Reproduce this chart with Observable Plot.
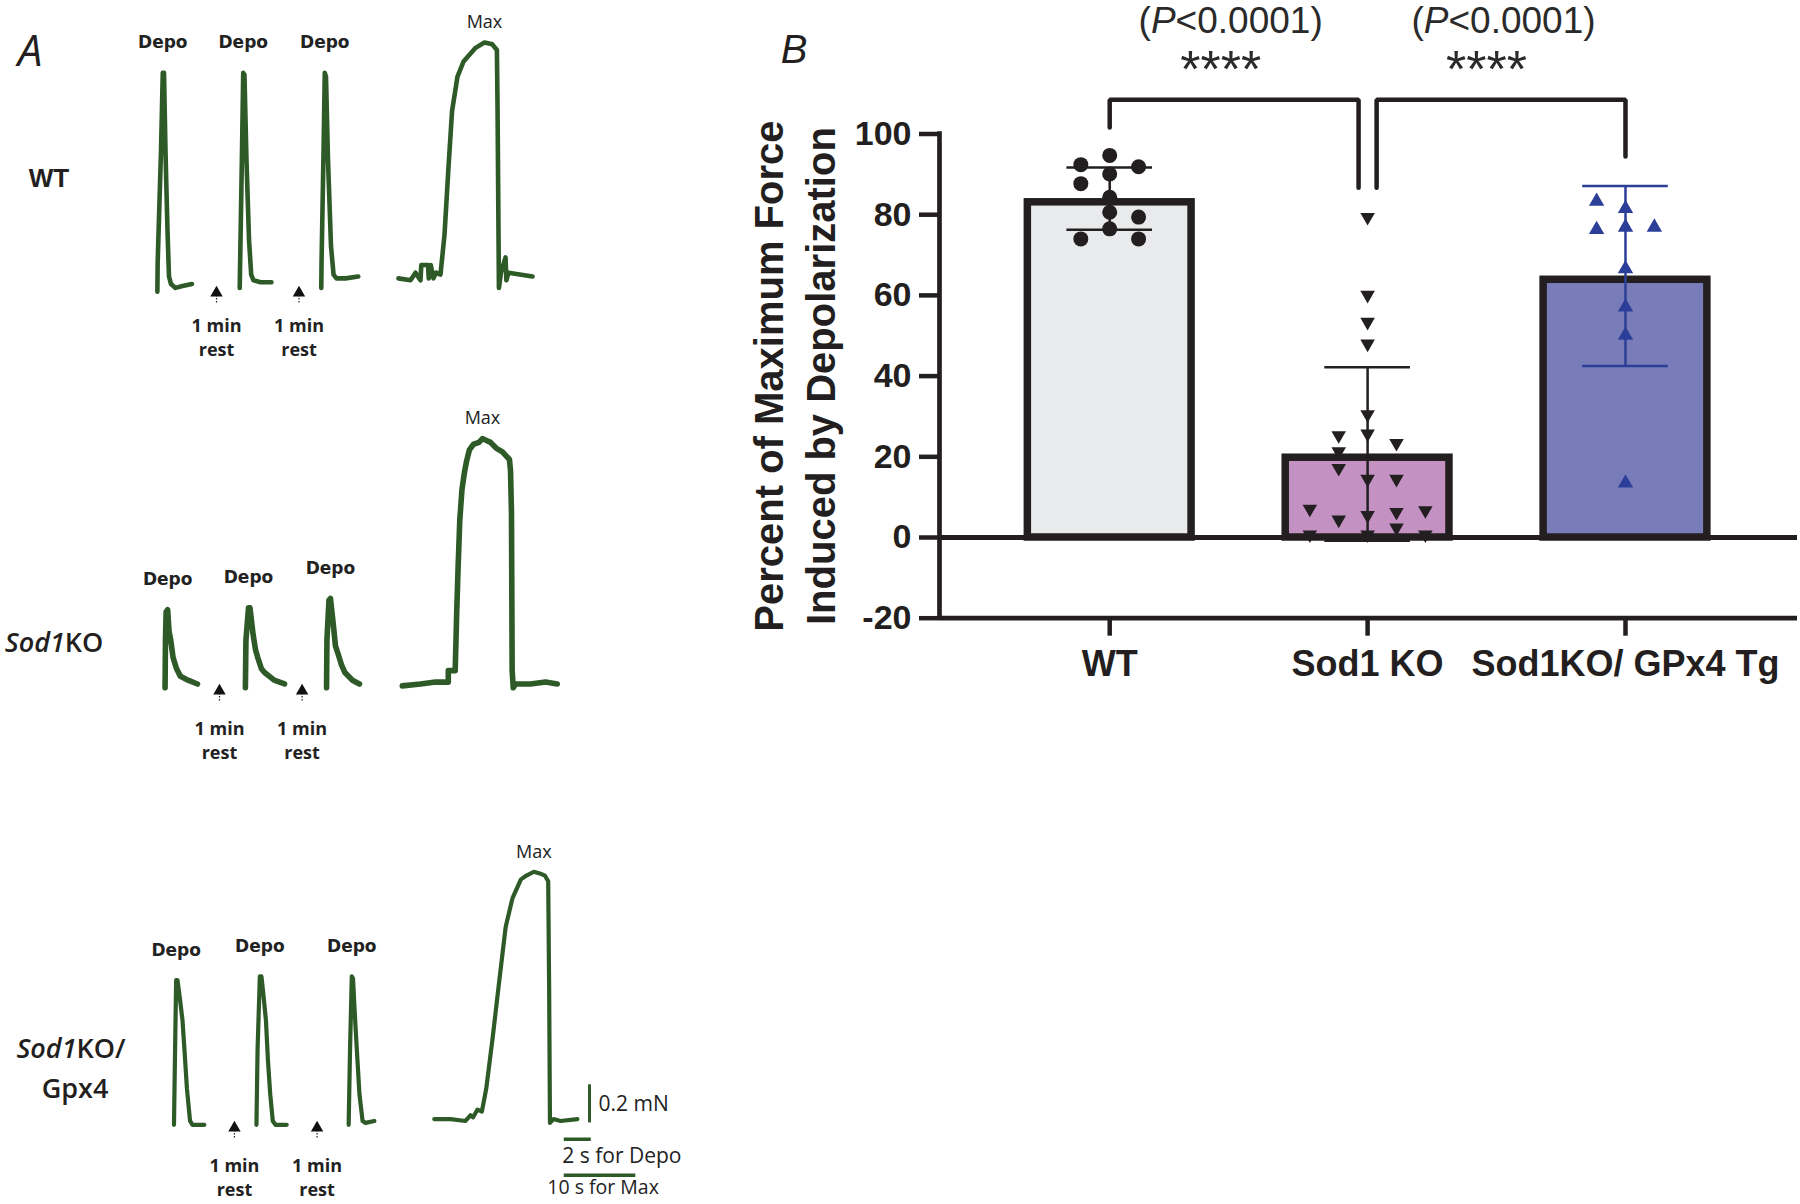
<!DOCTYPE html>
<html><head><meta charset="utf-8">
<script src="https://cdn.jsdelivr.net/npm/d3@7"></script>
<script src="https://cdn.jsdelivr.net/npm/@observablehq/plot@0.6"></script>
<style>
html,body{margin:0;padding:0;background:#fff;}
#page{position:relative;width:1800px;height:1204px;overflow:hidden;background:#fff;}
.box{position:absolute;}
.lbl{position:absolute;transform:translate(-50%,-50%);white-space:nowrap;line-height:1;color:#231f20;}
</style></head>
<body><div id="page"></div>
<script>
// ================= DATA =================
// ---- Panel B: percent of maximum force induced by depolarization ----
const groups = ["WT", "Sod1 KO", "Sod1KO/ GPx4 Tg"];
const groupMeans = [84.0, 20.7, 64.8];
const groupSD = [7.7, 21.5, 22.3];
const wtValues   = [92.4, 94.7, 91.9, 90.1, 87.7, 84.3, 80.6, 79.4, 76.5, 74.0, 74.0];
const wtColumns  = [-1, 0, 1, 0, -1, 0, 0, 1, 0, -1, 1];
const sodValues  = [79.4, 60.1, 53.4, 48.0, 30.5, 25.7, 25.3, 23.4, 21.3, 17.2, 14.5, 14.5, 7.1, 6.7, 6.3, 4.4, 5.5, 2.4, 0.7, 0.7, 0.7];
const sodColumns = [0, 0, 0, 0, 0, 0, -1, 1, -1, -1, 0, 1, -2, 2, 1, -1, 0, 1, -2, 0, 2];
const gpxValues  = [83.3, 81.5, 76.3, 76.9, 76.9, 66.6, 57.1, 50.1, 13.5];
const gpxColumns = [-1, 0, -1, 0, 1, 0, 0, 0, 0];
const yTicks = [-20, 0, 20, 40, 60, 80, 100];
const comparisons = [
  {from: 0, to: 1, top: 108.5, fromEnd: 101.6, toEnd: 86.7, p: "(P<0.0001)", stars: "****"},
  {from: 1, to: 2, top: 108.5, fromEnd: 86.7, toEnd: 94.4, p: "(P<0.0001)", stars: "****"}
];

// ---- Panel A: force traces [time (s, display time base), force (mN)] ----
const wtDepo1 = [[1.25,-0.02],[1.27,0.13],[1.52,0.72],[1.65,1.13],[1.74,1.13],[1.85,0.72],[2.0,0.3],[2.11,0.06],[2.26,0.02],[2.59,0.0],[3.11,0.01],[3.81,0.02]];
const wtDepo2 = [[7.35,0],[7.37,0.09],[7.52,0.72],[7.61,1.13],[7.70,1.12],[7.85,0.67],[8.04,0.25],[8.2,0.07],[8.37,0.04],[8.89,0.03],[9.70,0.03]];
const wtDepo3 = [[13.39,0],[13.41,0.13],[13.56,0.72],[13.65,1.13],[13.74,1.11],[13.89,0.67],[14.11,0.22],[14.30,0.07],[14.52,0.05],[15.19,0.05],[16.13,0.06]];
const wtMax = [[19.11,0.05],[20.0,0.04],[20.37,0.08],[20.74,0.04],[20.8,0.12],[21.3,0.12],[21.35,0.05],[21.5,0.12],[21.7,0.05],[21.9,0.08],[22.22,0.07],[22.52,0.28],[22.81,0.63],[23.08,0.93],[23.48,1.11],[23.93,1.19],[24.79,1.26],[25.48,1.29],[26.06,1.28],[26.4,1.25],[26.45,0.93],[26.55,0.0],[26.7,0.08],[27.04,0.16],[27.1,0.04],[27.26,0.08],[29.04,0.06]];

const sodDepo1 = [[1.82,-0.01],[1.85,0.24],[1.90,0.39],[2.01,0.40],[2.11,0.29],[2.24,0.24],[2.41,0.15],[2.67,0.09],[2.96,0.05],[3.52,0.03],[4.22,0.01]];
const sodDepo2 = [[7.77,-0.01],[7.81,0.24],[8.0,0.41],[8.11,0.41],[8.34,0.27],[8.52,0.19],[8.68,0.15],[8.96,0.09],[9.19,0.07],[9.90,0.03],[10.67,0.01]];
const sodDepo3 = [[13.78,-0.01],[13.81,0.24],[13.96,0.45],[14.07,0.46],[14.30,0.31],[14.44,0.21],[14.63,0.17],[14.89,0.11],[15.14,0.07],[15.70,0.03],[16.22,0.01]];
const sodMax = [[19.39,0],[20.74,0.01],[21.85,0.02],[22.80,0.02],[22.80,0.08],[23.31,0.08],[23.37,0.24],[23.42,0.38],[23.52,0.61],[23.65,0.87],[23.81,1.03],[23.99,1.12],[24.15,1.18],[24.36,1.24],[24.67,1.27],[25.07,1.28],[25.33,1.30],[25.63,1.29],[25.93,1.28],[26.34,1.25],[26.81,1.23],[27.33,1.19],[27.41,1.13],[27.48,0.91],[27.53,0.08],[27.61,-0.01],[27.78,0.01],[28.89,0.01],[30.0,0.02],[30.87,0.01]];

const gpxDepo1 = [[2.48,-0.01],[2.56,0.38],[2.64,0.75],[2.74,0.75],[2.89,0.67],[3.11,0.54],[3.26,0.38],[3.44,0.18],[3.67,0.01],[3.85,-0.01],[4.73,-0.01]];
const gpxDepo2 = [[8.59,-0.01],[8.67,0.38],[8.84,0.77],[8.96,0.77],[9.11,0.67],[9.29,0.54],[9.44,0.33],[9.61,0.15],[9.80,0.01],[10.0,-0.01],[10.83,-0.01]];
const gpxDepo3 = [[15.42,-0.01],[15.52,0.38],[15.65,0.77],[15.74,0.76],[15.90,0.54],[16.07,0.33],[16.22,0.15],[16.45,0.01],[16.67,0],[17.32,0.01]];
const gpxMax = [[21.76,0.02],[22.96,0.02],[24.07,0.01],[24.44,0.04],[24.64,0.03],[24.96,0.07],[25.29,0.06],[25.61,0.18],[26.09,0.45],[26.58,0.75],[27.05,1.03],[27.55,1.18],[28.18,1.28],[28.59,1.30],[29.14,1.32],[29.63,1.31],[29.95,1.30],[30.2,1.27],[30.27,0.71],[30.33,0],[30.59,0.02],[31.11,0.01],[32.36,0.02]];

const wtRest = [5.63, 11.74];
const sodRest = [5.85, 11.97];
const gpxRest = [6.96, 13.08];

const forceBar = [{t: 33.26, f: 0.2, label: "0.2 mN"}];
const depoTimeBar = [{t: 31.39, len: 2, f: -0.086, label: "2 s for Depo"}];
const maxTimeBar = [{t: 31.39, len: 5.3, f: -0.275, label: "10 s for Max"}];

// ================= STYLE / LAYOUT =================
const ink = "#231f20";
const green = "#2d5a27";
const barFills = ["#e9eaec", "#c392c3", "#787db9"];
const blue = "#2b3f98";
const page = document.getElementById("page");

function place(node, left, top) {
  const d = document.createElement("div");
  d.className = "box";
  d.style.left = left + "px";
  d.style.top = top + "px";
  d.appendChild(node);
  page.appendChild(d);
}
function label(html, x, y, css) {
  const d = document.createElement("div");
  d.className = "lbl";
  d.style.left = x + "px";
  d.style.top = y + "px";
  d.style.cssText += css;
  d.innerHTML = html;
  page.appendChild(d);
}

// ================= PANEL A =================
function sweeps(list) {
  return list.flatMap(([name, kind, pts]) => pts.map(([t, f]) => ({sweep: name, kind, t, f})));
}
function rowPlot(data, rests, strokeWidth, restDy, extra) {
  return Plot.plot({
    width: 740, height: 371,
    marginLeft: 140, marginRight: 60, marginTop: 0, marginBottom: 0,
    x: {domain: [0, 40], axis: null},
    y: {domain: [-0.45, 1.5], axis: null},
    style: {background: "none", overflow: "visible", color: ink},
    marks: [
      Plot.line(data, {x: "t", y: "f", z: "sweep", stroke: green, strokeWidth, strokeLinejoin: "round", strokeLinecap: "round"}),
      Plot.text(data.filter(d => d.kind === "Depo"), Plot.selectMaxY({x: "t", y: "f", z: "sweep", text: "kind", dy: -30,
        fontFamily: "DejaVu Sans", fontWeight: "bold", fontSize: 17, fill: "#222", style: "letter-spacing:0.8px"})),
      Plot.text(data.filter(d => d.kind === "Max"), Plot.selectMaxY({x: "t", y: "f", z: "sweep", text: "kind", dy: -20,
        fontFamily: "Open Sans", fontSize: 18, fill: "#222"})),
      Plot.ruleX(rests, {x: d => d, y1: -0.04, y2: -0.085, stroke: "#222", strokeWidth: 1.2, strokeDasharray: "1.5,1.5"}),
      Plot.dot(rests, {x: d => d, y: 0, dy: 5, symbol: "triangle", r: 4.6, fill: "#111"}),
      Plot.text(rests, {x: d => d, y: 0, dy: restDy, text: () => "1 min\nrest", lineHeight: 1.35,
        fontFamily: "Open Sans", fontWeight: "bold", fontSize: 18, fill: "#222"}),
      ...(extra || [])
    ]
  });
}

const row1 = sweeps([["d1", "Depo", wtDepo1], ["d2", "Depo", wtDepo2], ["d3", "Depo", wtDepo3], ["m", "Max", wtMax]]);
const row2 = sweeps([["d1", "Depo", sodDepo1], ["d2", "Depo", sodDepo2], ["d3", "Depo", sodDepo3], ["m", "Max", sodMax]]);
const row3 = sweeps([["d1", "Depo", gpxDepo1], ["d2", "Depo", gpxDepo2], ["d3", "Depo", gpxDepo3], ["m", "Max", gpxMax]]);

const scaleText = {fontFamily: "Open Sans", fontSize: 21, fill: "#222", textAnchor: "start"};
const scaleMarks = [
  Plot.ruleX(forceBar, {x: "t", y1: 0, y2: "f", stroke: green, strokeWidth: 3}),
  Plot.text(forceBar, {x: "t", y: d => d.f / 2, text: "label", dx: 9, ...scaleText}),
  Plot.ruleY(depoTimeBar, {y: "f", x1: "t", x2: d => d.t + d.len, stroke: green, strokeWidth: 3.5}),
  Plot.text(depoTimeBar, {x: "t", y: "f", text: "label", dx: -2, dy: 17, ...scaleText}),
  Plot.ruleY(maxTimeBar, {y: "f", x1: "t", x2: d => d.t + d.len, stroke: green, strokeWidth: 3.5}),
  Plot.text(maxTimeBar, {x: "t", y: "f", text: "label", dx: -17, dy: 13, ...scaleText, fontSize: 19.5})
];

place(rowPlot(row1, wtRest, 4.6, 48), 0, 2);
place(rowPlot(row2, sodRest, 5.6, 53), 0, 400);
place(rowPlot(row3, gpxRest, 4.2, 53, scaleMarks), 0, 837);

label("A", 30, 49, "font-family:'Open Sans';font-style:italic;font-size:44px;");
label("WT", 49, 178, "font-family:'Liberation Sans';font-weight:bold;font-size:26px;");
label("<i>Sod1</i>KO", 54, 641, "font-family:'Open Sans';font-weight:600;font-size:27px;");
label("<i>Sod1</i>KO/", 71, 1047, "font-family:'Open Sans';font-weight:600;font-size:27px;");
label("Gpx4", 75, 1087, "font-family:'Open Sans';font-weight:600;font-size:27px;");

// ================= PANEL B =================
const xDomain = [-0.66, 2.667];
const yDomain = [-20, 100];
const halfBar = 0.332, halfCap = 0.166, colStep = 0.112, bracketGap = 0.035;

const bars = groups.map((g, i) => ({i, g, mean: groupMeans[i], sd: groupSD[i], fill: barFills[i], err: i === 2 ? blue : ink}));
const caps = bars.flatMap(b => [{i: b.i, y: b.mean - b.sd, err: b.err}, {i: b.i, y: b.mean + b.sd, err: b.err}]);
const pts = (vals, cols, i) => vals.map((v, k) => ({x: i + cols[k] * colStep, v}));
const wtPts = pts(wtValues, wtColumns, 0);
const sodPts = pts(sodValues, sodColumns, 1);
const gpxPts = pts(gpxValues, gpxColumns, 2);

const uses = {};
comparisons.forEach(c => { uses[c.from] = (uses[c.from] || 0) + 1; uses[c.to] = (uses[c.to] || 0) + 1; });
const bracketPts = comparisons.flatMap((c, k) => {
  const xa = c.from + (uses[c.from] > 1 ? bracketGap : 0);
  const xb = c.to - (uses[c.to] > 1 ? bracketGap : 0);
  return [{id: k, x: xa, y: c.fromEnd}, {id: k, x: xa, y: c.top}, {id: k, x: xb, y: c.top}, {id: k, x: xb, y: c.toEnd}];
});
const bracketMid = comparisons.map(c => ({x: (c.from + c.to) / 2, y: c.top, p: c.p, stars: c.stars}));
const pText = {x: "x", y: "y", text: "p", dy: -79, fontSize: 37, fill: "#2a2a2a"};
const starText = {x: "x", y: "y", text: "stars", dy: -29, fontSize: 52, fill: "#2a2a2a", style: "letter-spacing:3px"};

const B = Plot.plot({
  width: 1060, height: 700,
  marginLeft: 199, marginRight: 3, marginTop: 133.5, marginBottom: 82.3,
  x: {domain: xDomain, axis: null},
  y: {domain: yDomain, axis: null},
  color: {type: "identity"},
  style: {background: "none", overflow: "visible", color: ink, fontFamily: "'Liberation Sans', Arial, sans-serif"},
  marks: [
    Plot.rect(bars, {x1: d => d.i - halfBar, x2: d => d.i + halfBar, y1: 0, y2: "mean", fill: "fill",
      stroke: ink, strokeWidth: 7.5, insetTop: 3.75, insetLeft: 3.75, insetRight: 3.75}),
    Plot.ruleY([0], {stroke: ink, strokeWidth: 5}),
    Plot.ruleX(bars, {x: "i", y1: d => d.mean - d.sd, y2: d => d.mean + d.sd, stroke: "err", strokeWidth: 2.5}),
    Plot.ruleY(caps, {y: "y", x1: d => d.i - halfCap, x2: d => d.i + halfCap, stroke: "err", strokeWidth: 2.5}),
    Plot.dot(wtPts, {x: "x", y: "v", r: 7.5, fill: ink, symbol: "circle"}),
    Plot.dot(sodPts, {x: "x", y: "v", r: 5.4, fill: ink, symbol: "triangle", rotate: 180}),
    Plot.dot(gpxPts, {x: "x", y: "v", r: 5.7, fill: blue, symbol: "triangle"}),
    Plot.line(bracketPts, {x: "x", y: "y", z: "id", stroke: ink, strokeWidth: 4.5, strokeLinejoin: "miter"}),
    Plot.text([bracketMid[0]], {...pText, dx: -8}),
    Plot.text([bracketMid[1]], {...pText, dx: 7}),
    Plot.text([bracketMid[0]], {...starText, dx: -18}),
    Plot.text([bracketMid[1]], {...starText, dx: -10}),
    Plot.ruleX([xDomain[0]], {y1: yDomain[0], y2: yDomain[1], stroke: ink, strokeWidth: 4.7, strokeLinecap: "square"}),
    Plot.ruleY([yDomain[0]], {x1: xDomain[0], x2: xDomain[1], stroke: ink, strokeWidth: 4.7}),
    Plot.axisY({ticks: yTicks, tickFormat: d => String(d), tickSize: 20, tickPadding: 8, strokeWidth: 4.5, stroke: ink, fontSize: 34, fontWeight: "bold", label: null}),
    Plot.axisX({ticks: [0, 1, 2], tickFormat: i => groups[i], tickSize: 18, tickPadding: 14, strokeWidth: 4.5, stroke: ink, fontSize: 36, fontWeight: "bold", label: null}),
    Plot.text(["Percent of Maximum Force\nInduced by Depolarization"], {x: xDomain[0], y: (yDomain[0] + yDomain[1]) / 2,
      rotate: -90, dx: -147, textAnchor: "middle", lineAnchor: "middle",
      lineHeight: 1.3, fontSize: 40, fontWeight: "bold", fill: ink})
  ]
});
// italic "P" inside the p-value labels
B.querySelectorAll("text").forEach(t => {
  const s = t.textContent;
  if (t.children.length === 0 && /^\(P</.test(s)) {
    const i = s.indexOf("P");
    t.textContent = "";
    const ns = "http://www.w3.org/2000/svg";
    [[s.slice(0, i), null], ["P", "italic"], [s.slice(i + 1), null]].forEach(([txt, st]) => {
      const sp = document.createElementNS(ns, "tspan");
      if (st) sp.setAttribute("font-style", st);
      sp.textContent = txt;
      t.appendChild(sp);
    });
  }
});
place(B, 740, 0);
label("B", 794, 49, "font-family:'Liberation Sans';font-style:italic;font-size:40px;");
</script>
</body></html>
